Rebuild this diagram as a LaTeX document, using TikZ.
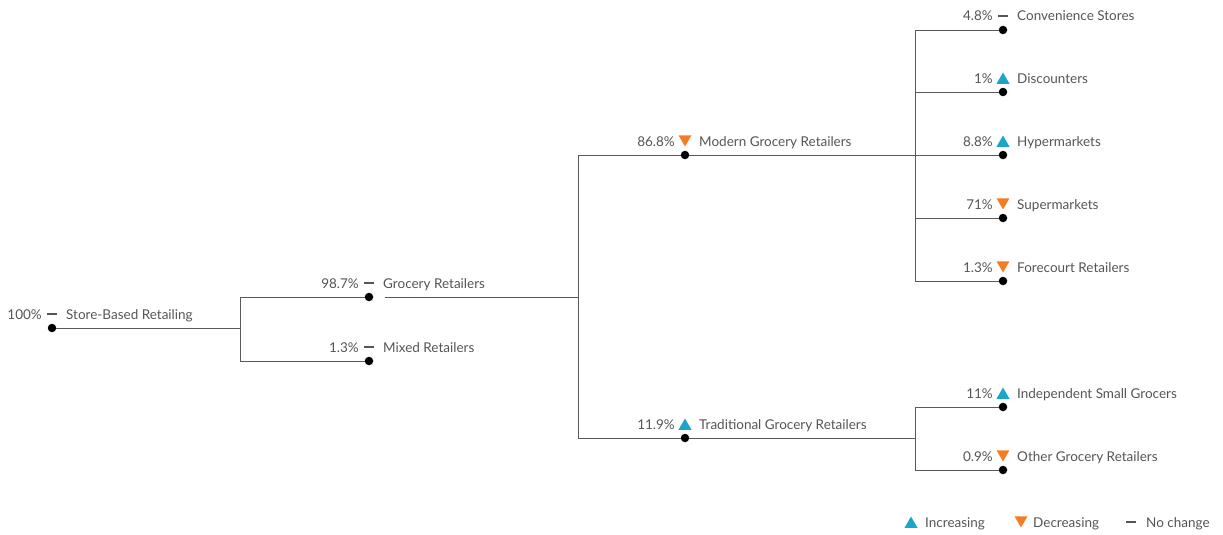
\documentclass[tikz,border=0pt]{standalone}
\usepackage{fontspec}
\setmainfont{Lato}
\usetikzlibrary{shapes.geometric}
\definecolor{txtgrey}{RGB}{85,85,85}
\definecolor{upblue}{RGB}{27,166,201}
\definecolor{downorange}{RGB}{246,124,34}
\tikzset{
  link/.style     = {draw=black!65, line width=0.9pt},
  dot/.style      = {circle, fill=black, inner sep=0pt, minimum size=8.5pt},
  lbl/.style      = {font=\fontsize{13.5}{15}\selectfont, text=txtgrey, inner sep=0pt},
  upmark/.style   = {regular polygon, regular polygon sides=3, fill=upblue, inner sep=0pt, minimum size=15pt, yshift=-2pt},
  downmark/.style = {regular polygon, regular polygon sides=3, shape border rotate=180, fill=downorange, inner sep=0pt, minimum size=15pt, yshift=2pt},
  flatmark/.style = {rectangle, fill=txtgrey, inner sep=0pt, minimum width=10pt, minimum height=1.3pt}
}
% marker above a dot, percent to its left, name to its right
\newcommand{\branch}[4]{%
  \node[#3] (#1m) at ([yshift=14pt]#1.center) {};
  \node[lbl, anchor=base east] at ([xshift=-10pt, yshift=9pt]#1.center) {#2};
  \node[lbl, anchor=base west] at ([xshift=14pt, yshift=9pt]#1.center) {#4};
}
\begin{document}
\begin{tikzpicture}[x={(1pt,0)}, y={(0,-1pt)}]
  \useasboundingbox (0,0) rectangle (1223,535);
  % dots of the tree
  \node[dot] (root) at (52,328) {};
  \node[dot] (groc) at (369,297) {};
  \node[dot] (mixed) at (369,361) {};
  \node[dot] (modern) at (685,155) {};
  \node[dot] (trad) at (685,438) {};
  % junctions
  \coordinate (j1) at (240,328);
  \coordinate (gout) at (385,297);
  \coordinate (j2) at (578,297);
  \coordinate (j3) at (915,155);
  \coordinate (j4) at (915,438);
  % leaves
  \foreach \nm/\yy/\pc/\mk/\tx in {
    conv/30/4.8\%/flatmark/Convenience Stores,
    disc/92/1\%/upmark/Discounters,
    hyper/155/8.8\%/upmark/Hypermarkets,
    super/218/71\%/downmark/Supermarkets,
    fore/281/1.3\%/downmark/Forecourt Retailers,
    indep/407/11\%/upmark/Independent Small Grocers,
    other/470/0.9\%/downmark/Other Grocery Retailers} {
    \node[dot] (\nm) at (1003,\yy) {};
    \branch{\nm}{\pc}{\mk}{\tx}
  }
  % connectors
  \draw[link] (root) -- (j1);
  \draw[link] (j1) |- (groc);
  \draw[link] (j1) |- (mixed);
  \draw[link] (gout) -- (j2);
  \draw[link] (j2) |- (modern);
  \draw[link] (j2) |- (trad);
  \draw[link] (modern) -- (j3);
  \draw[link] (trad) -- (j4);
  \foreach \nm in {conv,disc,hyper,super,fore}
    \draw[link] (j3) |- (\nm);
  \foreach \nm in {indep,other}
    \draw[link] (j4) |- (\nm);
  % labels of the inner dots
  \branch{root}{100\%}{flatmark}{Store-Based Retailing}
  \branch{groc}{98.7\%}{flatmark}{Grocery Retailers}
  \branch{mixed}{1.3\%}{flatmark}{Mixed Retailers}
  \branch{modern}{86.8\%}{downmark}{Modern Grocery Retailers}
  \branch{trad}{11.9\%}{upmark}{Traditional Grocery Retailers}
  % legend
  \node[upmark] (legup) at (911,522) {};
  \node[lbl, anchor=base west] at (925,527) {Increasing};
  \node[downmark] (legdown) at (1021,522) {};
  \node[lbl, anchor=base west] at (1033,527) {Decreasing};
  \node[flatmark] (legflat) at (1131,522) {};
  \node[lbl, anchor=base west] at (1146,527) {No change};
\end{tikzpicture}
\end{document}
